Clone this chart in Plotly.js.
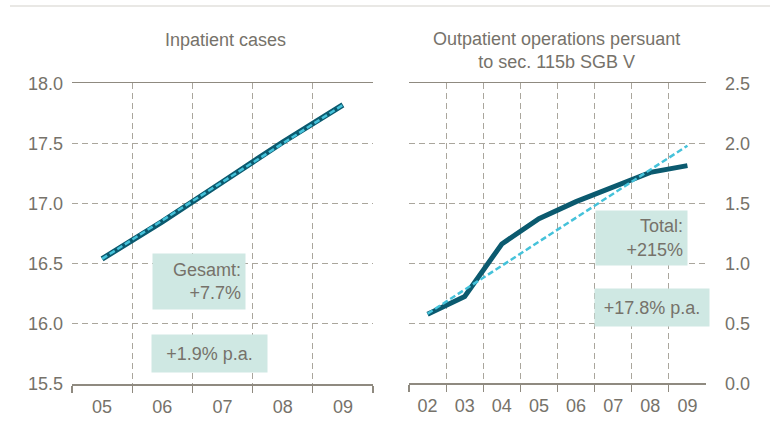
<!DOCTYPE html>
<html>
<head>
<meta charset="utf-8">
<script src="https://cdn.plot.ly/plotly-3.0.1.min.js"></script>
<style>
  html, body { margin: 0; padding: 0; background: #ffffff; }
  #chart { width: 770px; height: 433px; }
</style>
</head>
<body>
<div id="chart"></div>
<script>
// Left panel: inpatient cases (millions)
const inpatientYears = ['05', '06', '07', '08', '09'];
const inpatientCases = [16.54, 16.85, 17.18, 17.51, 17.82];
const inpatientTrendYears = ['05', '09'];
const inpatientTrend = [16.54, 17.82];

// Right panel: outpatient operations per sec. 115b SGB V (millions)
const outpatientYears = ['02', '03', '04', '05', '06', '07', '08', '09'];
const outpatientOps = [0.576, 0.724, 1.161, 1.372, 1.514, 1.639, 1.758, 1.814];
const outpatientTrendYears = ['02', '09'];
const outpatientTrend = [0.58, 1.98];

const leftTicks = [15.5, 16.0, 16.5, 17.0, 17.5, 18.0];
const rightTicks = [0.0, 0.5, 1.0, 1.5, 2.0, 2.5];

const FONT = 'Liberation Sans, Arial, sans-serif';
const TXT = '#76726a';
const GRID = '#aaa69d';
const AXIS = '#8f8a80';
const DARK = '#0b5a6f';
const LIGHT = '#45c2da';
const BOX = '#cfe8e3';
const FS = 18;

const traces = [
  { x: inpatientYears, y: inpatientCases, xaxis: 'x', yaxis: 'y', type: 'scatter', mode: 'lines',
    line: { color: DARK, width: 5.5 }, hoverinfo: 'skip' },
  { x: inpatientTrendYears, y: inpatientTrend, xaxis: 'x', yaxis: 'y', type: 'scatter', mode: 'lines',
    line: { color: LIGHT, width: 2.5, dash: '6px,3px' }, hoverinfo: 'skip' },
  { x: outpatientYears, y: outpatientOps, xaxis: 'x2', yaxis: 'y2', type: 'scatter', mode: 'lines',
    line: { color: DARK, width: 5 }, hoverinfo: 'skip' },
  { x: outpatientTrendYears, y: outpatientTrend, xaxis: 'x2', yaxis: 'y2', type: 'scatter', mode: 'lines',
    line: { color: LIGHT, width: 2.5, dash: '6px,3px' }, hoverinfo: 'skip' }
];

const yTop = 1 - 83.3 / 433;
const yBot = 1 - 384 / 433;

const xCommon = {
  type: 'category', tickson: 'boundaries', ticks: 'outside', ticklen: 7, tickcolor: AXIS, tickwidth: 1.2,
  showline: true, linecolor: AXIS, linewidth: 1.5, mirror: true,
  showgrid: true, gridcolor: GRID, gridwidth: 1, griddash: '6px,4px', ticklabelstandoff: 6,
  tickfont: { family: FONT, size: FS, color: TXT }, zeroline: false, fixedrange: true
};

const layout = {
  width: 770, height: 433,
  margin: { l: 0, r: 0, t: 0, b: 0 },
  paper_bgcolor: '#ffffff', plot_bgcolor: '#ffffff',
  showlegend: false,
  font: { family: FONT, color: TXT },
  xaxis: Object.assign({}, xCommon, {
    domain: [72 / 770, 373 / 770], anchor: 'y', range: [-0.5, inpatientYears.length - 0.5],
    categoryorder: 'array', categoryarray: inpatientYears
  }),
  yaxis: {
    domain: [yBot, yTop], anchor: 'x', range: [15.5, 18.0],
    tickvals: leftTicks, ticktext: leftTicks.map(v => v.toFixed(1)),
    showgrid: true, gridcolor: GRID, griddash: '6px,4px', gridwidth: 1,
    showline: false, ticks: '', zeroline: false, ticklabelstandoff: 8,
    tickfont: { family: FONT, size: FS, color: TXT }, fixedrange: true
  },
  xaxis2: Object.assign({}, xCommon, {
    domain: [409 / 770, 706 / 770], anchor: 'y2', range: [-0.5, outpatientYears.length - 0.5],
    categoryorder: 'array', categoryarray: outpatientYears
  }),
  yaxis2: {
    domain: [1 - 383.3 / 433, yTop], anchor: 'x2', side: 'right', range: [0, 2.5],
    tickvals: rightTicks, ticktext: rightTicks.map(v => v.toFixed(1)),
    showgrid: true, gridcolor: GRID, griddash: '6px,4px', gridwidth: 1,
    showline: false, ticks: '', zeroline: false, ticklabelstandoff: 18,
    tickfont: { family: FONT, size: FS, color: TXT }, fixedrange: true
  },
  shapes: [
    { type: 'line', xref: 'paper', yref: 'paper', x0: 10 / 770, x1: 1, y0: 1 - 6 / 433, y1: 1 - 6 / 433,
      line: { color: '#e2e0dc', width: 1.5 } }
  ],
  annotations: [
    { text: 'Inpatient cases', xref: 'paper', yref: 'paper', x: 225 / 770, y: 1 - 40 / 433,
      showarrow: false, xanchor: 'center', yanchor: 'middle', font: { family: FONT, size: FS, color: TXT } },
    { text: 'Outpatient operations persuant<br>to sec. 115b SGB V', xref: 'paper', yref: 'paper',
      x: 556 / 770, y: 1 - 50.5 / 433, showarrow: false, xanchor: 'center', yanchor: 'middle',
      font: { family: FONT, size: FS, color: TXT } },
    { text: 'Gesamt:<br>+7.7%', xref: 'paper', yref: 'paper', x: 199 / 770, y: 1 - 281.5 / 433,
      showarrow: false, xanchor: 'center', yanchor: 'middle', align: 'right',
      width: 84, height: 47, borderpad: 4, bgcolor: BOX, font: { family: FONT, size: FS, color: TXT } },
    { text: '+1.9% p.a.', xref: 'paper', yref: 'paper', x: 209.5 / 770, y: 1 - 353.5 / 433,
      showarrow: false, xanchor: 'center', yanchor: 'middle', align: 'center',
      width: 107, height: 29, borderpad: 4, bgcolor: BOX, font: { family: FONT, size: FS, color: TXT } },
    { text: 'Total:<br>+215%', xref: 'paper', yref: 'paper', x: 641.5 / 770, y: 1 - 238 / 433,
      showarrow: false, xanchor: 'center', yanchor: 'middle', align: 'right',
      width: 83, height: 46, borderpad: 4, bgcolor: BOX, font: { family: FONT, size: FS, color: TXT } },
    { text: '+17.8% p.a.', xref: 'paper', yref: 'paper', x: 652 / 770, y: 1 - 307.5 / 433,
      showarrow: false, xanchor: 'center', yanchor: 'middle', align: 'center',
      width: 106, height: 29, borderpad: 4, bgcolor: BOX, font: { family: FONT, size: FS, color: TXT } }
  ]
};

Plotly.newPlot('chart', traces, layout, { displayModeBar: false, staticPlot: true });
</script>
</body>
</html>
